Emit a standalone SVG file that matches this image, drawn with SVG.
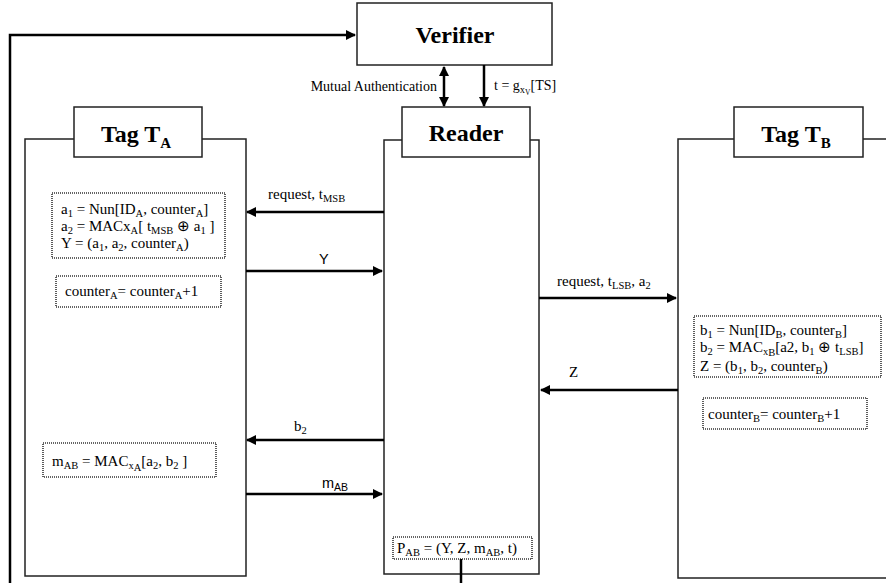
<svg xmlns="http://www.w3.org/2000/svg" width="886" height="583" viewBox="0 0 886 583">
  <style>
    .box { fill: #fff; stroke: #222; stroke-width: 1.5; }
    .note { fill: #fff; stroke: #333; stroke-width: 1.6; stroke-dasharray: 1 1; }
    .wire { fill: none; stroke: #000; stroke-width: 2.5; }
    .title { font-family: "Liberation Serif", "Times New Roman", serif; font-weight: bold; font-size: 24px; fill: #000; }
    .t { font-family: "Liberation Serif", "Times New Roman", serif; font-size: 15px; fill: #000; }
    .s { font-family: "Liberation Sans", Arial, sans-serif; font-size: 14.5px; fill: #000; }
    .small { font-family: "Liberation Serif", "Times New Roman", serif; font-size: 14px; fill: #000; }
    .sub { font-size: 10.5px; }
    .subt { font-size: 15px; }
  </style>
  <defs>
    <marker id="arr" viewBox="0 0 10 10" refX="9" refY="5" markerWidth="4" markerHeight="4" orient="auto-start-reverse">
      <path d="M0,0 L10,5 L0,10 z" fill="#000"/>
    </marker>
  </defs>

  <!-- Verifier -->
  <g id="verifier">
    <rect class="box" x="357" y="3" width="195" height="62"/>
    <text class="title" x="455" y="43" text-anchor="middle">Verifier</text>
  </g>

  <!-- Tag A: lifeline body with title tab -->
  <g id="tagA">
    <rect class="box" x="25" y="139" width="221" height="437"/>
    <rect class="box" x="74" y="107" width="128" height="50"/>
    <text class="title" x="136" y="142" text-anchor="middle">Tag T<tspan class="subt" dy="6">A</tspan></text>
  </g>

  <!-- Reader -->
  <g id="reader">
    <rect class="box" x="384" y="140" width="155" height="434"/>
    <rect class="box" x="402" y="107" width="128" height="50"/>
    <text class="title" x="466" y="141" text-anchor="middle">Reader</text>
  </g>

  <!-- Tag B (extends past the right edge) -->
  <g id="tagB">
    <rect class="box" x="678" y="139" width="230" height="439"/>
    <rect class="box" x="734" y="107" width="129" height="50"/>
    <text class="title" x="796" y="142" text-anchor="middle">Tag T<tspan class="subt" dy="6">B</tspan></text>
  </g>

  <!-- Tag A computations -->
  <g id="noteA1">
    <rect class="note" x="52" y="193" width="173" height="65"/>
    <text class="t" x="61" y="214">a<tspan class="sub" dy="3">1</tspan><tspan dy="-3"> = Nun[ID</tspan><tspan class="sub" dy="3">A</tspan><tspan dy="-3">, counter</tspan><tspan class="sub" dy="3">A</tspan><tspan dy="-3">]</tspan></text>
    <text class="t" x="61" y="231">a<tspan class="sub" dy="3">2</tspan><tspan dy="-3"> = MACx</tspan><tspan class="sub" dy="3">A</tspan><tspan dy="-3">[ t</tspan><tspan class="sub" dy="3">MSB</tspan><tspan dy="-3"> ⊕ a</tspan><tspan class="sub" dy="3">1</tspan><tspan dy="-3"> ]</tspan></text>
    <text class="t" x="61" y="248">Y = (a<tspan class="sub" dy="3">1</tspan><tspan dy="-3">, a</tspan><tspan class="sub" dy="3">2</tspan><tspan dy="-3">, counter</tspan><tspan class="sub" dy="3">A</tspan><tspan dy="-3">)</tspan></text>
  </g>
  <g id="noteA2">
    <rect class="note" x="56" y="276" width="165" height="31"/>
    <text class="t" x="65" y="296">counter<tspan class="sub" dy="3">A</tspan><tspan dy="-3">= counter</tspan><tspan class="sub" dy="3">A</tspan><tspan dy="-3">+1</tspan></text>
  </g>
  <g id="noteA3">
    <rect class="note" x="43" y="443" width="173" height="34"/>
    <text class="t" x="52" y="466">m<tspan class="sub" dy="3">AB</tspan><tspan dy="-3"> = MAC</tspan><tspan class="sub" dy="3">x</tspan><tspan class="sub" font-size="8.5" dy="1.5">A</tspan><tspan dy="-4.5">[a</tspan><tspan class="sub" dy="3">2</tspan><tspan dy="-3">, b</tspan><tspan class="sub" dy="3">2</tspan><tspan dy="-3"> ]</tspan></text>
  </g>

  <!-- Tag B computations -->
  <g id="noteB1">
    <rect class="note" x="694" y="316" width="187" height="61"/>
    <text class="t" x="700" y="335">b<tspan class="sub" dy="3">1</tspan><tspan dy="-3"> = Nun[ID</tspan><tspan class="sub" dy="3">B</tspan><tspan dy="-3">, counter</tspan><tspan class="sub" dy="3">B</tspan><tspan dy="-3">]</tspan></text>
    <text class="t" x="700" y="352">b<tspan class="sub" dy="3">2</tspan><tspan dy="-3"> = MAC</tspan><tspan class="sub" dy="2.5">x</tspan><tspan class="sub" font-size="8" dy="1">B</tspan><tspan dy="-3.5">[a2, b</tspan><tspan class="sub" dy="3">1</tspan><tspan dy="-3"> ⊕ t</tspan><tspan class="sub" dy="3">LSB</tspan><tspan dy="-3">]</tspan></text>
    <text class="t" x="700" y="371">Z = (b<tspan class="sub" dy="3">1</tspan><tspan dy="-3">, b</tspan><tspan class="sub" dy="3">2</tspan><tspan dy="-3">, counter</tspan><tspan class="sub" dy="3">B</tspan><tspan dy="-3">)</tspan></text>
  </g>
  <g id="noteB2">
    <rect class="note" x="703" y="398" width="164" height="31"/>
    <text class="t" x="708" y="419" font-size="15.5">counter<tspan class="sub" dy="3">B</tspan><tspan dy="-3">= counter</tspan><tspan class="sub" dy="3">B</tspan><tspan dy="-3">+1</tspan></text>
  </g>

  <!-- Reader aggregate -->
  <g id="notePAB">
    <rect class="note" x="393" y="537" width="139" height="22"/>
    <text class="t" x="397" y="553" font-size="16">P<tspan class="sub" dy="3">AB</tspan><tspan dy="-3"> = (Y, Z, m</tspan><tspan class="sub" dy="3">AB</tspan><tspan dy="-3">, t)</tspan></text>
  </g>

  <!-- Connectors -->
  <g id="connectors">
    <path class="wire" d="M10,583 V35 H355" marker-end="url(#arr)"/>
    <path class="wire" d="M461,559 V583"/>
    <line class="wire" x1="444" y1="67" x2="444" y2="106" marker-start="url(#arr)" marker-end="url(#arr)"/>
    <line class="wire" x1="484" y1="65" x2="484" y2="106" marker-end="url(#arr)"/>
    <line class="wire" x1="384" y1="212" x2="247" y2="212" marker-end="url(#arr)"/>
    <line class="wire" x1="246" y1="271" x2="382" y2="271" marker-end="url(#arr)"/>
    <line class="wire" x1="539" y1="298" x2="676" y2="298" marker-end="url(#arr)"/>
    <line class="wire" x1="678" y1="390" x2="541" y2="390" marker-end="url(#arr)"/>
    <line class="wire" x1="384" y1="440" x2="247" y2="440" marker-end="url(#arr)"/>
    <line class="wire" x1="246" y1="494" x2="382" y2="494" marker-end="url(#arr)"/>
  </g>

  <!-- Connector labels -->
  <g id="labels">
    <text class="small" x="437" y="91" text-anchor="end">Mutual Authentication</text>
    <text class="small" x="494" y="90">t = g<tspan class="sub" font-size="10" dy="3">x</tspan><tspan font-size="7.5" dy="2">V</tspan><tspan dy="-5">[TS]</tspan></text>
    <text class="t" x="268" y="199">request, t<tspan class="sub" dy="3">MSB</tspan></text>
    <text class="s" x="319" y="264">Y</text>
    <text class="t" x="557" y="286">request, t<tspan class="sub" dy="3">LSB</tspan><tspan dy="-3">, a</tspan><tspan class="sub" dy="3">2</tspan></text>
    <text class="t" x="569" y="377">Z</text>
    <text class="t" x="294" y="431">b<tspan class="sub" dy="3">2</tspan></text>
    <text class="s" x="322" y="488">m<tspan class="sub" dy="3">AB</tspan></text>
  </g>
</svg>
